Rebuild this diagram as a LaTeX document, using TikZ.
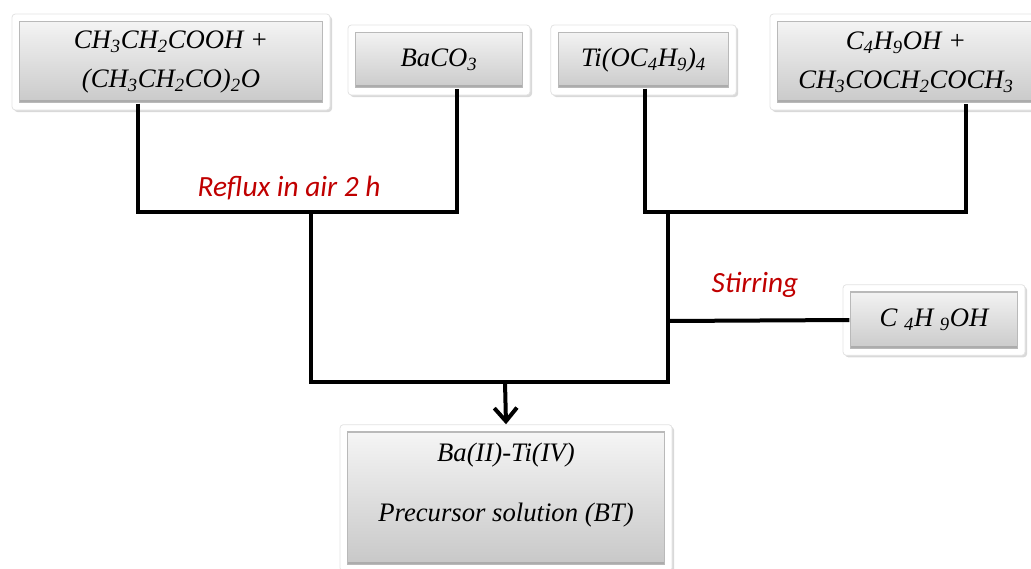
\documentclass[tikz,border=0pt]{standalone}
\usepackage{fontspec}
\setmainfont{Liberation Serif}
\newfontfamily\condfont{Carlito}
\usetikzlibrary{arrows.meta}
\usetikzlibrary{shadows}
\definecolor{condred}{RGB}{192,0,0}

\begin{document}
\begin{tikzpicture}[x=0.75pt, y=-0.75pt,
            chembox/.style={fill=white, draw=gray!22, line width=0.6pt, rounded corners=2.5pt, align=center,
                font=\fontsize{20}{29}\selectfont\itshape,
                drop shadow={opacity=0.3, shadow xshift=1.5pt, shadow yshift=-1.5pt},
                path picture={
                    \shade[sharp corners, top color=gray!6, bottom color=gray!45, draw=gray!55, line width=0.8pt]
                        ([shift={(5.5pt,-5.5pt)}]path picture bounding box.north west) rectangle
                        ([shift={(-5.5pt,5.5pt)}]path picture bounding box.south east);
                    \draw[sharp corners, gray!65, line width=1.6pt]
                        ([shift={(6pt,6.5pt)}]path picture bounding box.south west) --
                        ([shift={(-6pt,6.5pt)}]path picture bounding box.south east);
                }},
            link/.style={color=black, line width=3pt},
            condnode/.style={text=condred, font=\condfont\itshape\fontsize{22}{26}\selectfont}
        ]
            \useasboundingbox (0,0) rectangle (1031,568);

            % starting materials
            \node[chembox, minimum width=238.5pt, minimum height=72pt] (acid) at (171,62)
                {CH\textsubscript{3}CH\textsubscript{2}COOH +\\(CH\textsubscript{3}CH\textsubscript{2}CO)\textsubscript{2}O};
            \node[chembox, minimum width=136.5pt, minimum height=52.5pt] (baco) at (439,60)
                {BaCO\textsubscript{3}};
            \node[chembox, minimum width=139pt, minimum height=52.5pt] (tibu) at (643.5,60)
                {Ti(OC\textsubscript{4}H\textsubscript{9})\textsubscript{4}};
            \node[chembox, minimum width=204pt, minimum height=72pt] (butac) at (906,62)
                {C\textsubscript{4}H\textsubscript{9}OH +\\CH\textsubscript{3}COCH\textsubscript{2}COCH\textsubscript{3}};
            \node[chembox, minimum width=136.5pt, minimum height=53pt] (butol) at (934,320)
                {C \textsubscript{4}H \textsubscript{9}OH};

            % product
            \node[chembox, minimum width=249pt, minimum height=110pt] (bt) at (506,498)
                {Ba(II)-Ti(IV)\\[16pt]Precursor solution (BT)\\[-6pt]\mbox{}};

            % junctions
            \coordinate (jA) at (138,212);
            \coordinate (jB) at (457,212);
            \coordinate (jC) at (311,212);
            \coordinate (jD) at (311,382);
            \coordinate (jE) at (668,382);
            \coordinate (jF) at (645,212);
            \coordinate (jG) at (966,212);
            \coordinate (jH) at (668,212);
            \coordinate (jI) at (668,321);
            \coordinate (jArr) at (505,382);

            % left branch
            \draw[link] ([yshift=5pt]acid.south -| jA) -- (jA) -- (jB) -- ([yshift=5pt]baco.south -| jB);
            \draw[link] (jC) -- (jD) -- (jE) -- (jH);

            % right branch
            \draw[link] ([yshift=5pt]tibu.south -| jF) -- (jF) -- (jG) -- ([yshift=5pt]butac.south -| jG);
            \draw[link] (jI) -- ([xshift=5pt]butol.west);

            % to the product
            \draw[link, -{Straight Barb[length=10pt, width=17pt, line width=3pt]}] (jArr) -- (bt.north);

            % conditions
            \node[condnode] (reflux) at (289,188) {Reflux in air 2 h};
            \node[condnode] (stir) at (755,285) {Stirring};

        \end{tikzpicture}
\end{document}
